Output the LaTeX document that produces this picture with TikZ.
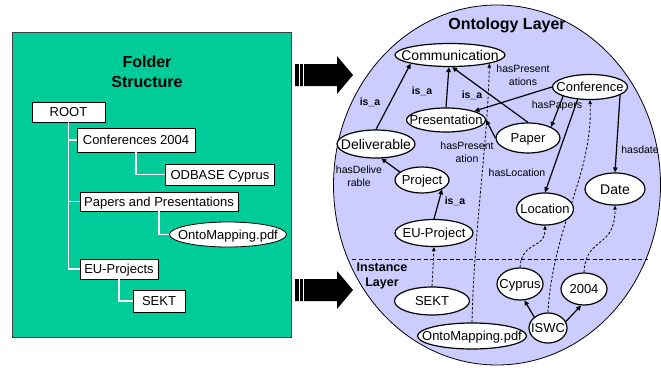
\documentclass[tikz,border=0pt]{standalone}
\usepackage{fontspec}
\setmainfont{Liberation Sans}
\usepackage{tikz}
\usetikzlibrary{arrows.meta,shapes.geometric}
\definecolor{folderbg}{RGB}{0,204,153}
\definecolor{layerbg}{RGB}{204,204,255}
\pgfdeclarelayer{back}
\pgfdeclarelayer{links}
\pgfsetlayers{back,links,main}
% centred label that does not widen its ellipse
\newcommand{\ctext}[1]{\makebox[0pt]{#1}}

\begin{document}
\begin{tikzpicture}[x=1pt,y=-1pt,
  every node/.style={font=\fontsize{13}{15}\selectfont},
  sz/.style 2 args={minimum width=#1pt,minimum height=#2pt},
  folder/.style={draw,fill=white,line width=0.8pt,inner sep=0pt,text height=9pt,text depth=0pt},
  concept/.style={ellipse,draw,fill=white,line width=1.2pt,inner sep=0pt,text height=9.3pt,text depth=0pt},
  big/.style={font=\fontsize{14}{16}\selectfont,text height=10pt},
  rel/.style={line width=1.2pt,-{Triangle[length=5pt,width=4.5pt]}},
  inst/.style={dashed,dash pattern=on 2.5pt off 1.8pt,line width=0.8pt,-{Triangle[length=4pt,width=3.5pt]}},
  lbl/.style={font=\fontsize{10.5}{13.5}\selectfont,align=center,inner sep=0pt},
  isa/.style={font=\bfseries\fontsize{10.5}{12}\selectfont,inner sep=0pt},
  tree/.style={white,line width=1.5pt},
  heading/.style={font=\bfseries\fontsize{16}{20}\selectfont,align=center,inner sep=0pt}]
  \useasboundingbox (0,0) rectangle (661,367);

  % folder side
  \begin{pgfonlayer}{back}
    \draw[fill=folderbg,draw=black!75,line width=0.8pt] (12,32) rectangle (291,337);
    \draw[fill=layerbg,line width=0.8pt] (497,185) ellipse [x radius=163.5,y radius=180];
  \end{pgfonlayer}
  \node[heading] (ftitle) at (147,72) {Folder\\Structure};
  \node[folder,sz={73}{20}] (root) at (68.5,112) {ROOT};
  \node[folder,sz={118}{24}] (fconf) at (136,140) {Conferences 2004};
  \node[folder,sz={109}{21}] (odbase) at (220,174.5) {ODBASE Cyprus};
  \node[folder,sz={158}{19}] (fpapers) at (159,201.5) {Papers and Presentations};
  \node[concept,line width=0.8pt,sz={117}{25}] (fomap) at (228,234.5) {\ctext{OntoMapping.pdf}};
  \node[folder,sz={78}{20}] (feu) at (119,269) {EU-Projects};
  \node[folder,sz={52}{22}] (fsekt) at (159,301) {SEKT};
  \draw[tree] (root.south) |- (fconf.west) (root.south) |- (fpapers.west) (root.south) |- (feu.west);
  \draw[tree] (fconf.south) |- (odbase.west);
  \draw[tree] (fpapers.south) |- (fomap.west);
  \draw[tree] (feu.south) |- (fsekt.west);

  % block arrows with striped tails
  \foreach \ay in {75,290} {
    \fill (295,\ay-11) -- (337,\ay-11) -- (337,\ay-19) -- (353,\ay) -- (337,\ay+19)
      -- (337,\ay+11) -- (295,\ay+11) -- cycle;
    \draw[white,line width=1pt] (299,\ay-11) -- (299,\ay+11) (303,\ay-11) -- (303,\ay+11);
  }

  % ontology layer
  \node[heading] (otitle) at (507,25) {Ontology Layer};
  \node[concept,big,sz={110}{23}] (comm) at (450,55) {\ctext{Communication}};
  \node[concept,sz={75}{25}] (conf) at (590,87) {\ctext{Conference}};
  \node[concept,sz={79}{24}] (pres) at (446,120) {\ctext{Presentation}};
  \node[concept,sz={64}{30}] (paper) at (528,138) {\ctext{Paper}};
  \node[concept,big,sz={78}{28}] (deliv) at (376,144) {\ctext{Deliverable}};
  \node[concept,sz={54}{26}] (proj) at (422,180) {\ctext{Project}};
  \node[concept,sz={78}{27}] (eup) at (434,233) {\ctext{EU-Project}};
  \node[concept,sz={57}{32}] (loc) at (545,209) {\ctext{Location}};
  \node[concept,big,sz={60}{32}] (date) at (615,189) {\ctext{Date}};

  \node[isa] (isa1) at (370,102) {is\_a};
  \node[isa] (isa2) at (422,91) {is\_a};
  \node[isa] (isa3) at (472,95) {is\_a};
  \node[isa] (isa4) at (455,201) {is\_a};
  \node[lbl] (lpres) at (523,75) {hasPresent\\ations};
  \node[lbl] (lpap) at (557,106) {hasPapers};
  \node[lbl] (lpres2) at (467,152) {hasPresent\\ation};
  \node[lbl] (lloc) at (517,173) {hasLocation};
  \node[lbl] (ldate) at (640,150) {hasdate};
  \node[lbl] (ldel) at (359,176) {hasDelive\\rable};

  % instance layer
  \draw[dashed,dash pattern=on 4pt off 2.5pt,line width=0.8pt] (352,259) -- (648,259);
  \node[heading,font=\bfseries\fontsize{12.5}{15}\selectfont] (ititle) at (382,276) {Instance\\Layer};
  \node[concept,sz={75}{28}] (sekt) at (432,301) {\ctext{SEKT}};
  \node[concept,sz={109}{26}] (omap) at (472,336) {\ctext{OntoMapping.pdf}};
  \node[concept,sz={46}{32}] (cyp) at (520,284) {\ctext{Cyprus}};
  \node[concept,sz={46}{32}] (yr) at (584,289) {\ctext{2004}};
  \node[concept,sz={38}{30}] (iswc) at (548,328) {\ctext{ISWC}};

  \begin{pgfonlayer}{links}
    % is_a hierarchy
    \draw[rel] (deliv.north) -- (comm.south west);
    \draw[rel] (pres.north) -- (comm.-95);
    \draw[rel] (paper.north) -- (comm.-80);
    \draw[rel] (eup.north) -- (proj.-25);
    % properties
    \draw[rel] (conf.west) -- (pres.north east);
    \draw[rel] (conf.south west) -- (paper.north east);
    \draw[rel] (conf.-135) -- (loc.north);
    \draw[rel] (conf.-15) -- (date.north);
    \draw[rel] (paper.west) -- (pres.east);
    \draw[rel] (proj.160) -- (deliv.-70);
    % instances
    \draw[rel] (iswc.north west) -- (cyp.-75);
    \draw[rel] (iswc.20) -- (yr.-100);
    \draw[inst] (sekt.north) -- (eup.south);
    \draw[inst] (omap.north) .. controls (474,230) and (488,140) .. (comm.south east);
    \draw[inst] (iswc.north) .. controls (553,225) and (593,175) .. (conf.south);
    \draw[inst] (cyp.north) .. controls (522,240) and (545,250) .. (loc.south);
    \draw[inst] (yr.north) .. controls (586,235) and (615,250) .. (date.south);
  \end{pgfonlayer}
\end{tikzpicture}
\end{document}
